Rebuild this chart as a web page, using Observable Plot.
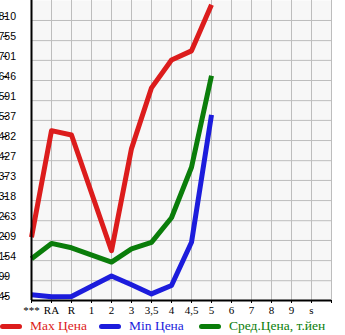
<!DOCTYPE html>
<html>
<head>
<meta charset="utf-8">
<script src="https://cdn.jsdelivr.net/npm/d3@7"></script>
<script src="https://cdn.jsdelivr.net/npm/@observablehq/plot@0.6"></script>
<style>
  body { margin: 0; background: #fff; }
  #legend { position: relative; height: 17px; font-family: "Liberation Serif", serif; font-size: 13.5px; }
  #legend .item { position: absolute; top: 0; display: flex; align-items: center; white-space: nowrap; }
  #legend .sw { display: inline-block; width: 22px; height: 5px; border-radius: 3px; margin-right: 8px; }
</style>
</head>
<body>
<div id="chart"></div>
<div id="legend"></div>
<script>
const categories = ["***", "RA", "R", "1", "2", "3", "3,5", "4", "4,5", "5", "6", "7", "8", "9", "s"];
const maxPrice = [218, 509, 497, null, 181, 460, 626, 702, 727, 853, null, null, null, null, null];
const minPrice = [61, 55, 56, null, 112, 88, 63, 86, 204, 552, null, null, null, null, null];
const avgPrice = [159, 201, 189, null, 150, 186, 204, 271, 409, 659, null, null, null, null, null];
const yTicks = [45, 99, 154, 209, 263, 318, 373, 427, 482, 537, 591, 646, 701, 755, 810];
const seriesNames = ["Max Цена", "Min Цена", "Сред.Цена, т.йен"];
const seriesColors = ["#dc1c1c", "#1c1cdc", "#0a7d0a"];

const yMin = 45, yStep = 54.64;
const yMax = yMin + yStep * 15;

const seriesData = [maxPrice, minPrice, avgPrice].map((vals, s) =>
  vals.map((v, i) => ({i, v, s})).filter(d => d.v != null)
);

const chart = Plot.plot({
  width: 345,
  height: 318,
  marginLeft: 31,
  marginRight: 14,
  marginTop: 0,
  marginBottom: 18,
  style: {overflow: "visible"},
  x: {type: "linear", domain: [0, categories.length]},
  y: {type: "linear", domain: [yMin, yMax]},
  marks: [
    Plot.frame({fill: "#f7f7f7", stroke: null}),
    Plot.ruleY(yTicks.slice(1), {stroke: "#bdbdbd", strokeWidth: 1}),
    Plot.ruleX(d3.range(1, categories.length + 1), {stroke: "#bdbdbd", strokeWidth: 1}),
    ...seriesData.map((data, s) =>
      Plot.line(data, {x: "i", y: "v", stroke: seriesColors[s], strokeWidth: 5, strokeLinejoin: "round", strokeLinecap: "butt"})
    ),
    Plot.ruleX([0], {stroke: "#000", strokeWidth: 2}),
    Plot.ruleY([yMin], {stroke: "#000", strokeWidth: 2}),
    Plot.axisY({
      ticks: yTicks, tickSize: 4, tickFormat: d => String(d), label: null,
      textAnchor: "start", dx: -24, dy: -4, fontSize: 10.5,
      fontFamily: "Liberation Sans, sans-serif"
    }),
    Plot.axisX({
      ticks: d3.range(0, categories.length + 1), tickSize: 3, tickPadding: 3,
      tickFormat: i => categories[i] ?? "", label: null,
      fontSize: 11, fontFamily: "Liberation Serif, serif"
    })
  ]
});
chart.style.background = "#fff";
document.getElementById("chart").appendChild(chart);

const legend = document.getElementById("legend");
const legendLeft = [0, 99, 199];
seriesNames.forEach((name, s) => {
  const item = document.createElement("div");
  item.className = "item";
  item.style.left = legendLeft[s] + "px";
  item.style.color = seriesColors[s];
  const sw = document.createElement("span");
  sw.className = "sw";
  sw.style.background = seriesColors[s];
  item.appendChild(sw);
  item.appendChild(document.createTextNode(name));
  legend.appendChild(item);
});
</script>
</body>
</html>
